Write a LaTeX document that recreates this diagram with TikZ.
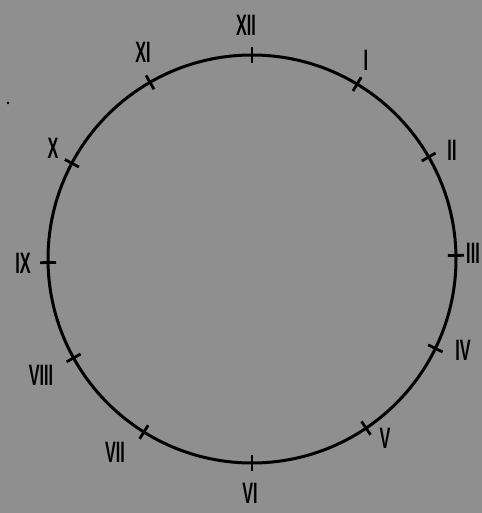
\documentclass[tikz,border=0pt]{standalone}
\usepackage{fontspec}
\setmainfont{Liberation Sans}
\usepackage{tikz}
\newcommand{\hourlabel}[1]{\scalebox{0.55}[1]{#1}}
\tikzset{
  dial/.style={line width=1.5mm, draw=black},
  hourtick/.style={line width=1.4mm, draw=black},
  numeral/.style={font=\fontsize{42}{42}\selectfont\bfseries, text=black, inner sep=0pt}
}

\begin{document}
\begin{tikzpicture}[x=0.5mm, y=0.5mm]
  % paper
  \fill[black!44] (0,0) rectangle (482,513);
  \useasboundingbox (0,0) rectangle (482,513);
  \fill[black] (8,410) circle (1.3);
  % dial
  \coordinate (centre) at (252,254);
  \draw[dial] (centre) circle (204);
  % hour ticks
  \foreach \a in {90,59,30,1,-26,-56,-90,-122,-151,181,152,120}
    \draw[hourtick] (centre) ++(\a:196) -- ++(\a:16);
  % numerals
  \node[numeral] (xii)  at (246,488) {\hourlabel{XII}};
  \node[numeral] (i)    at (366,453) {\hourlabel{I}};
  \node[numeral] (ii)   at (452,363) {\hourlabel{II}};
  \node[numeral] (iii)  at (473,260) {\hourlabel{III}};
  \node[numeral] (iv)   at (463,163) {\hourlabel{IV}};
  \node[numeral] (v)    at (385,75)  {\hourlabel{V}};
  \node[numeral] (vi)   at (250,20)  {\hourlabel{VI}};
  \node[numeral] (vii)  at (115,61)  {\hourlabel{VII}};
  \node[numeral] (viii) at (41,138)  {\hourlabel{VIII}};
  \node[numeral] (ix)   at (23,250)  {\hourlabel{IX}};
  \node[numeral] (x)    at (53,365)  {\hourlabel{X}};
  \node[numeral] (xi)   at (143,461) {\hourlabel{XI}};
\end{tikzpicture}
\end{document}
